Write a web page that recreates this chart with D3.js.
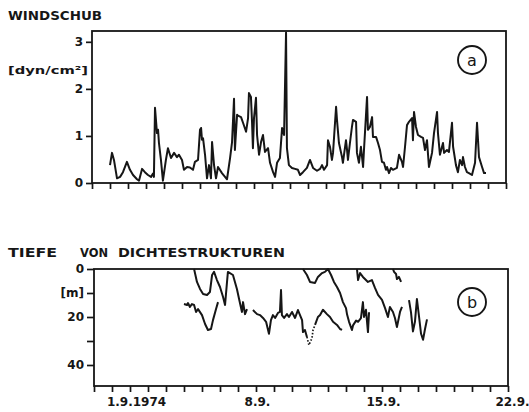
<!DOCTYPE html>
<html>
<head>
<meta charset="utf-8">
<script src="https://cdn.jsdelivr.net/npm/d3@7"></script>
<style>
    body { margin: 0; background: #fff; }
    svg text { font-family: "DejaVu Sans", sans-serif; font-weight: bold; fill: #161616; }
</style>
</head>
<body>
<div id="chart"></div>
<script>
// days counted from 1.9.1974, 00 Uhr
const dayTicks = d3.range(-2, 22);
const dayLabelDays = [0, 7, 14, 21];
const dayLabels = ['1.9.1974', '8.9.', '15.9.', '22.9.'];

const windTicks = [0, 1, 2, 3];
const depthTicks = [0, 10, 20, 30, 40];
const depthTickLabels = ['0', '[m]', '20', '', '40'];

// (a) Windschub [dyn/cm2]  -> [day, value]
const windschub = [
    [-1.00, 0.38], [-0.89, 0.64], [-0.78, 0.49], [-0.61, 0.10], [-0.44, 0.13], [-0.28, 0.23], [-0.06, 0.45],
    [0.11, 0.28], [0.28, 0.17], [0.50, 0.08], [0.61, 0.05], [0.78, 0.30], [0.94, 0.23], [1.11, 0.17],
    [1.28, 0.13], [1.39, 0.20], [1.44, 0.13], [1.50, 1.60], [1.61, 1.06], [1.67, 1.13], [1.72, 0.85],
    [1.83, 0.49], [1.94, 0.05], [2.11, 0.50], [2.22, 0.74], [2.39, 0.53], [2.56, 0.64], [2.72, 0.55],
    [2.83, 0.60], [3.00, 0.49], [3.11, 0.28], [3.28, 0.34], [3.44, 0.33], [3.61, 0.28], [3.72, 0.45],
    [3.89, 0.49], [4.00, 1.13], [4.06, 1.17], [4.11, 0.92], [4.17, 0.95], [4.28, 0.60], [4.39, 0.10],
    [4.50, 0.38], [4.61, 0.10], [4.67, 0.87], [4.78, 0.38], [4.89, 0.10], [5.00, 0.34], [5.22, 0.21],
    [5.39, 0.13], [5.50, 0.08], [5.67, 0.53], [5.78, 0.87], [5.89, 1.79], [5.94, 0.70], [6.06, 1.45],
    [6.11, 1.43], [6.28, 1.40], [6.39, 1.28], [6.56, 1.09], [6.67, 1.38], [6.72, 1.91], [6.83, 1.83],
    [6.89, 1.30], [6.94, 0.74], [7.00, 1.38], [7.11, 1.81], [7.17, 1.02], [7.28, 0.60], [7.39, 0.87],
    [7.50, 1.02], [7.61, 0.66], [7.78, 0.74], [7.89, 0.43], [8.06, 0.23], [8.17, 0.13], [8.28, 0.43],
    [8.44, 0.53], [8.56, 1.17], [8.67, 1.02], [8.78, 3.20], [8.83, 0.74], [8.94, 0.38], [9.11, 0.32],
    [9.28, 0.30], [9.44, 0.28], [9.56, 0.17], [9.72, 0.23], [9.94, 0.32], [10.11, 0.49], [10.28, 0.32],
    [10.50, 0.26], [10.67, 0.30], [10.78, 0.38], [10.89, 0.28], [11.06, 0.38], [11.11, 0.91], [11.22, 0.77],
    [11.33, 0.49], [11.39, 0.64], [11.56, 1.62], [11.61, 1.34], [11.72, 0.85], [11.89, 0.55], [11.94, 0.43],
    [12.11, 0.91], [12.17, 0.70], [12.22, 0.49], [12.33, 0.85], [12.44, 1.19], [12.50, 1.34], [12.67, 1.30],
    [12.72, 0.64], [12.83, 0.43], [12.94, 0.77], [13.06, 0.34], [13.11, 0.70], [13.28, 1.83], [13.33, 1.13],
    [13.44, 1.19], [13.56, 1.40], [13.61, 0.98], [13.78, 0.98], [13.89, 0.85], [14.00, 0.70], [14.11, 0.45],
    [14.22, 0.43], [14.33, 0.28], [14.39, 0.34], [14.50, 0.21], [14.61, 0.32], [14.72, 0.28], [14.94, 0.32],
    [15.06, 0.60], [15.22, 0.45], [15.28, 0.34], [15.39, 0.77], [15.50, 1.23], [15.61, 1.30], [15.78, 1.38],
    [15.83, 0.91], [15.89, 1.51], [16.00, 1.19], [16.11, 1.02], [16.28, 0.98], [16.39, 0.96], [16.50, 0.70],
    [16.61, 0.91], [16.72, 0.34], [16.89, 0.64], [17.00, 1.06], [17.17, 1.51], [17.22, 1.06], [17.33, 0.60],
    [17.50, 0.85], [17.56, 0.64], [17.72, 0.70], [17.83, 0.66], [18.00, 1.28], [18.06, 0.77], [18.22, 0.38],
    [18.33, 0.23], [18.44, 0.49], [18.56, 0.38], [18.61, 0.55], [18.72, 0.34], [18.83, 0.23], [18.94, 0.21],
    [19.11, 0.17], [19.28, 0.43], [19.39, 1.28], [19.50, 0.55], [19.67, 0.34], [19.78, 0.21], [19.89, 0.21]
];

// (b) Tiefe von Dichtestrukturen [m] -> [day, depth], several pieces
const tiefeU1 = [[3.56, 0], [3.72, 5.4], [3.89, 8.3], [4.06, 10.4], [4.28, 10.8], [4.44, 9.6], [4.56, 2.5],
    [4.67, 1.2], [4.83, 4.6], [5.00, 7.5], [5.17, 11.7], [5.28, 15], [5.39, 5.4], [5.44, 1.2], [5.72, 2.5],
    [5.94, 8.3], [6.06, 12.5], [6.22, 17.9], [6.28, 13.8], [6.39, 18.8], [6.50, 16.7]];
const tiefeL1 = [[3.00, 14.6], [3.17, 15], [3.22, 14.2], [3.33, 15.8], [3.44, 14.6], [3.56, 15], [3.67, 17.9],
    [3.78, 16.7], [4.00, 19.2], [4.17, 22.9], [4.33, 25.4], [4.50, 25], [4.61, 21.3], [4.78, 16.7], [4.89, 13.8]];
const tiefeL2 = [[6.83, 17.1], [7.06, 18.8], [7.22, 19.2], [7.39, 20.4], [7.56, 22], [7.67, 25.4], [7.72, 27],
    [7.83, 21.3], [7.94, 19.2], [8.06, 20.4], [8.22, 18.3], [8.33, 17.9], [8.39, 8.8], [8.44, 19.2], [8.56, 20.4],
    [8.72, 18.8], [8.83, 20], [9.00, 17.9], [9.17, 20.4], [9.33, 17.1], [9.56, 21.3], [9.61, 26.3], [9.72, 25.4],
    [9.83, 28.3]];
const tiefeDots = [[9.83, 28.3], [9.94, 31.7], [10.11, 28.8], [10.17, 25.4], [10.28, 23.3]];
const tiefeL3 = [[10.28, 23.3], [10.44, 20], [10.56, 19.2], [10.72, 17], [10.94, 18.8], [11.11, 20], [11.28, 22],
    [11.50, 23.3], [11.67, 25], [11.78, 25.4]];
const tiefeU2 = [[9.61, 0], [9.83, 2.5], [10.00, 5.4], [10.28, 5.8], [10.44, 3.3], [10.67, 1.7], [10.83, 1.2],
    [11.00, 0], [11.17, 2.5], [11.33, 5.4], [11.50, 7.5], [11.67, 10], [11.83, 13.8], [12.00, 16.3], [12.06, 19],
    [12.17, 22], [12.33, 25.4], [12.39, 23.5], [12.56, 21.5], [12.67, 22], [12.83, 20.5], [12.94, 13.8],
    [13.00, 20], [13.11, 17], [13.22, 26.3], [13.28, 18]];
const tiefeU3 = [[12.61, 0], [12.67, 4.6], [12.78, 1.7], [12.94, 3.3], [13.22, 5.4], [13.44, 4.6], [13.61, 7.9],
    [13.78, 10.8], [14.00, 12.9], [14.17, 16.3], [14.33, 20], [14.44, 15.8], [14.61, 17.9], [14.72, 20.4],
    [14.83, 24.2], [15.00, 17.9], [15.11, 15.8]];
const tiefeU4 = [[14.61, 0], [14.67, 1.2], [14.78, 2.1], [14.83, 4.2], [14.94, 3.3], [15.06, 5.4]];
const tiefeR = [[15.50, 13], [15.61, 18], [15.72, 26], [15.83, 22], [15.94, 12.5], [16.06, 20], [16.17, 27],
    [16.28, 29.5], [16.39, 25], [16.50, 21]];

const solidPieces = [tiefeU1, tiefeL1, tiefeL2, tiefeL3, tiefeU2, tiefeU3, tiefeU4, tiefeR];

// ---------------------------------------------------------------
const W = 529, H = 412;
const INK = '#161616';

const svg = d3.select('#chart').append('svg')
    .attr('width', W).attr('height', H)
    .style('background', '#fff');

// SCALES
const xa = d3.scaleLinear().domain([-2, 21]).range([92, 506]);
const ya = d3.scaleLinear().domain([0, 3.23]).range([183, 31]);
const xb = d3.scaleLinear().domain([-2, 21]).range([94, 508]);
const yb = d3.scaleLinear().domain([0, 48.75]).range([269, 386]);

function styleAxis(g) {
    g.select('.domain').remove();
    g.selectAll('.tick line').attr('stroke', INK).attr('stroke-width', 1.7);
    g.selectAll('.tick text').attr('fill', INK).style('font-size', '12px');
}

function frame(x, y) {
    svg.append('rect')
        .attr('x', x.range()[0]).attr('y', Math.min(y.range()[0], y.range()[1]))
        .attr('width', x.range()[1] - x.range()[0])
        .attr('height', Math.abs(y.range()[1] - y.range()[0]))
        .attr('fill', 'none').attr('stroke', INK).attr('stroke-width', 1.8);
}

function badge(cx, cy, letter) {
    svg.append('circle').attr('cx', cx).attr('cy', cy).attr('r', 14)
        .attr('fill', 'none').attr('stroke', INK).attr('stroke-width', 1.9);
    svg.append('text').attr('x', cx).attr('y', cy + 5.5)
        .attr('text-anchor', 'middle').style('font-size', '16px').style('font-weight', 'normal')
        .text(letter);
}

const line = (x, y) => d3.line().x(d => x(d[0])).y(d => y(d[1]));

// ============ PANEL A ============
svg.append('text').attr('x', 8).attr('y', 20).style('font-size', '12px')
    .attr('textLength', 94).attr('lengthAdjust', 'spacingAndGlyphs').text('WINDSCHUB');
svg.append('text').attr('x', 8).attr('y', 74).style('font-size', '11px')
    .attr('textLength', 80).attr('lengthAdjust', 'spacingAndGlyphs').text('[dyn/cm²]');

svg.append('g').attr('transform', `translate(${xa.range()[0]},0)`)
    .call(d3.axisLeft(ya).tickValues(windTicks).tickSize(6).tickPadding(3).tickFormat(d3.format('d')))
    .call(styleAxis);

svg.append('g').attr('transform', `translate(0,${ya(0)})`)
    .call(d3.axisBottom(xa).tickValues(dayTicks).tickSize(6).tickFormat(''))
    .call(styleAxis);

frame(xa, ya);

svg.append('path').datum(windschub)
    .attr('d', line(xa, ya))
    .attr('fill', 'none').attr('stroke', INK).attr('stroke-width', 2)
    .attr('stroke-linejoin', 'round');

badge(472, 60, 'a');

// ============ PANEL B ============
const titleWords = [['TIEFE', 8, 49], ['VON', 80, 28], ['DICHTESTRUKTUREN', 118, 167]];
titleWords.forEach(([w, x, len]) => {
    svg.append('text').attr('x', x).attr('y', 257).style('font-size', '12px')
        .attr('textLength', len).attr('lengthAdjust', 'spacingAndGlyphs').text(w);
});

svg.append('g').attr('transform', `translate(${xb.range()[0]},0)`)
    .call(d3.axisLeft(yb).tickValues(depthTicks).tickSize(7).tickPadding(3)
        .tickFormat((d, i) => depthTickLabels[i]))
    .call(styleAxis);

svg.append('g').attr('transform', `translate(0,${yb.range()[1]})`)
    .call(d3.axisBottom(xb).tickValues(dayTicks).tickSize(6).tickPadding(5)
        .tickFormat(d => {
            const k = dayLabelDays.indexOf(d);
            return k < 0 ? '' : dayLabels[k];
        }))
    .call(styleAxis)
    .call(g => g.selectAll('.tick text').attr('dx', d => d === 0 ? 6 : d === 21 ? 4 : 1));

frame(xb, yb);

svg.append('g').selectAll('path.seg')
    .data(solidPieces).join('path')
    .attr('class', 'seg')
    .attr('d', line(xb, yb))
    .attr('fill', 'none').attr('stroke', INK).attr('stroke-width', 2)
    .attr('stroke-linejoin', 'round');

svg.append('path').datum(tiefeDots)
    .attr('d', line(xb, yb))
    .attr('fill', 'none').attr('stroke', INK).attr('stroke-width', 1.7)
    .attr('stroke-dasharray', '1.5,1.8');

badge(472, 302, 'b');
</script>
</body>
</html>
